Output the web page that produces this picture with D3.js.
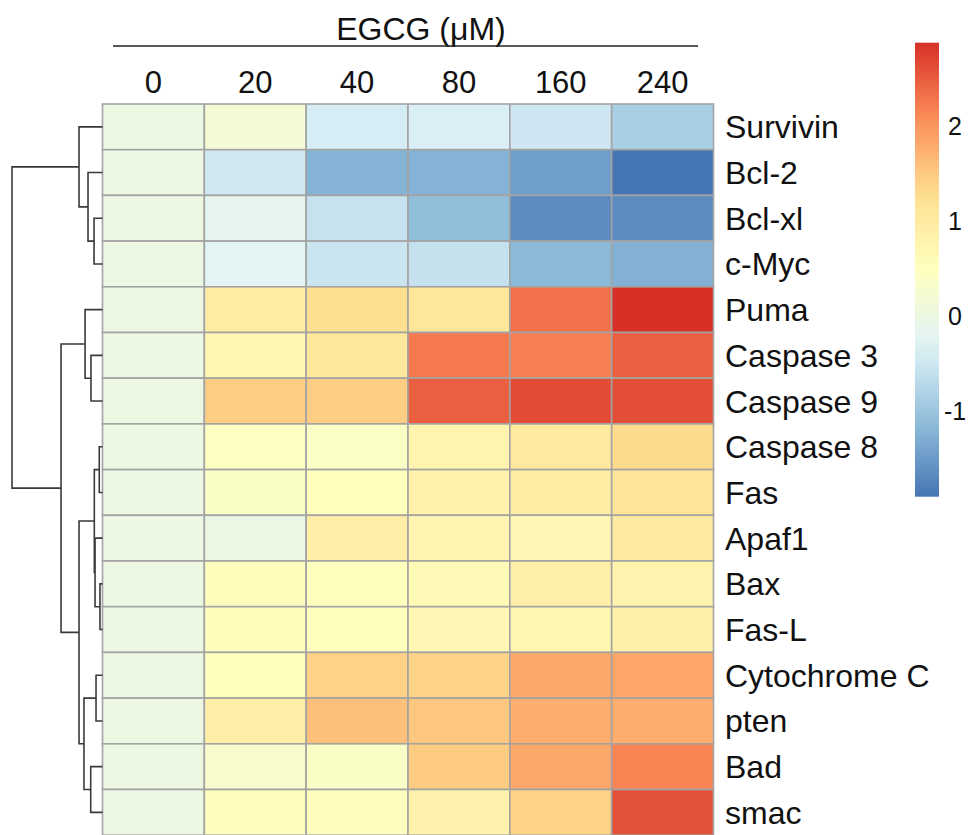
<!DOCTYPE html>
<html>
<head>
<meta charset="utf-8">
<script src="https://cdn.jsdelivr.net/npm/d3@7"></script>
<style>
  body { margin: 0; background: #fff; }
  text { font-family: "Liberation Sans", Arial, sans-serif; fill: #111; }
</style>
</head>
<body>
<svg id="chart" width="973" height="835"></svg>
<script>
// EGCG doses (columns) and genes (rows, in dendrogram order)
const doses = ['0', '20', '40', '80', '160', '240'];
const genes = ['Survivin', 'Bcl-2', 'Bcl-xl', 'c-Myc', 'Puma', 'Caspase 3', 'Caspase 9',
    'Caspase 8', 'Fas', 'Apaf1', 'Bax', 'Fas-L', 'Cytochrome C', 'pten', 'Bad', 'smac'];

// scaled expression, one array per gene, same order as doses
const survivin = [0, 0.2, -0.4, -0.38, -0.5, -0.86];
const bcl2 = [0, -0.47, -1.23, -1.23, -1.46, -1.9];
const bclxl = [0, -0.15, -0.56, -1.1, -1.66, -1.65];
const cmyc = [0, -0.22, -0.52, -0.58, -1.17, -1.25];
const puma = [0, 0.97, 1.28, 1.1, 2.32, 2.88];
const casp3 = [0, 0.72, 1.12, 2.24, 2.2, 2.48];
const casp9 = [0, 1.46, 1.46, 2.48, 2.63, 2.62];
const casp8 = [0, 0.45, 0.4, 0.77, 1.05, 1.34];
const fas = [0, 0.38, 0.52, 0.85, 0.99, 1.18];
const apaf1 = [0, -0.02, 0.92, 0.74, 0.7, 1.0];
const bax = [0, 0.55, 0.5, 0.65, 0.87, 0.8];
const fasl = [0, 0.55, 0.5, 0.7, 0.72, 0.88];
const cytc = [0, 0.5, 1.42, 1.4, 1.82, 1.84];
const pten = [0, 0.92, 1.6, 1.53, 1.77, 1.78];
const bad = [0, 0.3, 0.38, 1.49, 1.82, 2.15];
const smac = [0, 0.53, 0.53, 0.82, 1.42, 2.6];
const values = [survivin, bcl2, bclxl, cmyc, puma, casp3, casp9, casp8,
    fas, apaf1, bax, fasl, cytc, pten, bad, smac];

// row clustering, hclust style: negative = leaf (1-based), positive = earlier merge
const merges = [
    [-11, -12, 0.28],
    [-8, -9, 0.36],
    [-10, 1, 0.83],
    [2, 3, 0.91],
    [-3, -4, 0.94],
    [-13, -14, 0.72],
    [-6, -7, 1.28],
    [-15, -16, 1.31],
    [-2, 5, 1.61],
    [-5, 7, 1.94],
    [6, 8, 2.06],
    [-1, 9, 2.61],
    [4, 11, 2.61],
    [10, 13, 4.61],
    [12, 14, 10.06]
];

const legendTicks = [-1, 0, 1, 2];
const palette = ['#4575B4', '#91BFDB', '#E0F3F8', '#FFFFBF', '#FEE090', '#FC8D59', '#D73027'];

const svg = d3.select('#chart');

const x = d3.scaleBand().domain(doses).range([102.5, 713.5]);
const y = d3.scaleBand().domain(genes).range([104, 104 + 16 * 45.7]);

const all = values.flat();
const vmin = d3.min(all), vmax = d3.max(all);
const color = d3.scaleLinear()
    .domain(palette.map((c, i) => vmin + (vmax - vmin) * i / (palette.length - 1)))
    .range(palette)
    .interpolate(d3.interpolateRgb);

// cells
const cells = [];
values.forEach((row, i) => row.forEach((v, j) => cells.push({ gene: genes[i], dose: doses[j], v })));

svg.append('g')
    .selectAll('rect')
    .data(cells)
    .enter()
    .append('rect')
    .attr('x', d => x(d.dose))
    .attr('y', d => y(d.gene))
    .attr('width', x.bandwidth())
    .attr('height', y.bandwidth())
    .attr('fill', d => color(d.v))
    .attr('stroke', '#a3a3a3')
    .attr('stroke-width', 1.6);

// row labels
svg.append('g')
    .selectAll('text')
    .data(genes)
    .enter()
    .append('text')
    .attr('x', 725)
    .attr('y', d => y(d) + y.bandwidth() / 2)
    .attr('dy', '0.36em')
    .style('font-size', '32px')
    .text(d => d);

// column labels
svg.append('g')
    .selectAll('text')
    .data(doses)
    .enter()
    .append('text')
    .attr('x', d => x(d) + x.bandwidth() / 2)
    .attr('y', 93)
    .attr('text-anchor', 'middle')
    .style('font-size', '31px')
    .text(d => d);

// header
svg.append('text')
    .attr('x', 421)
    .attr('y', 40)
    .attr('text-anchor', 'middle')
    .style('font-size', '32px')
    .text('EGCG (μM)');

svg.append('line')
    .attr('x1', 113).attr('x2', 698)
    .attr('y1', 46).attr('y2', 46)
    .attr('stroke', '#222')
    .attr('stroke-width', 1.5);

// dendrogram
const hx = d3.scaleLinear().domain([0, d3.max(merges, m => m[2])]).range([102.5, 12]);
const nodeY = [], nodeX = [];
function pos(ref) {
    if (ref < 0) return { px: hx(0), py: y(genes[-ref - 1]) + y.bandwidth() / 2 };
    return { px: nodeX[ref - 1], py: nodeY[ref - 1] };
}
const links = merges.map((m, i) => {
    const a = pos(m[0]), b = pos(m[1]);
    const mx = hx(m[2]);
    nodeX[i] = mx;
    nodeY[i] = (a.py + b.py) / 2;
    return `M${a.px},${a.py}H${mx}V${b.py}H${b.px}`;
});

svg.append('g')
    .selectAll('path')
    .data(links)
    .enter()
    .append('path')
    .attr('d', d => d)
    .attr('fill', 'none')
    .attr('stroke', '#3a3a3a')
    .attr('stroke-width', 1.6);

// colour legend
const ly = d3.scaleLinear().domain([vmin, vmax]).range([496.7, 42.7]);
const grad = svg.append('defs')
    .append('linearGradient')
    .attr('id', 'lg')
    .attr('x1', 0).attr('y1', 1).attr('x2', 0).attr('y2', 0);
grad.selectAll('stop')
    .data(d3.range(0, 1.0001, 0.05))
    .enter()
    .append('stop')
    .attr('offset', d => d)
    .attr('stop-color', d => color(vmin + d * (vmax - vmin)));

svg.append('rect')
    .attr('x', 915)
    .attr('y', ly(vmax))
    .attr('width', 24)
    .attr('height', ly(vmin) - ly(vmax))
    .attr('fill', 'url(#lg)');

svg.append('g')
    .selectAll('text')
    .data(legendTicks)
    .enter()
    .append('text')
    .attr('x', d => d < 0 ? 944 : 948)
    .attr('y', d => ly(d))
    .attr('dy', '0.36em')
    .style('font-size', '25px')
    .text(d => d);
</script>
</body>
</html>
